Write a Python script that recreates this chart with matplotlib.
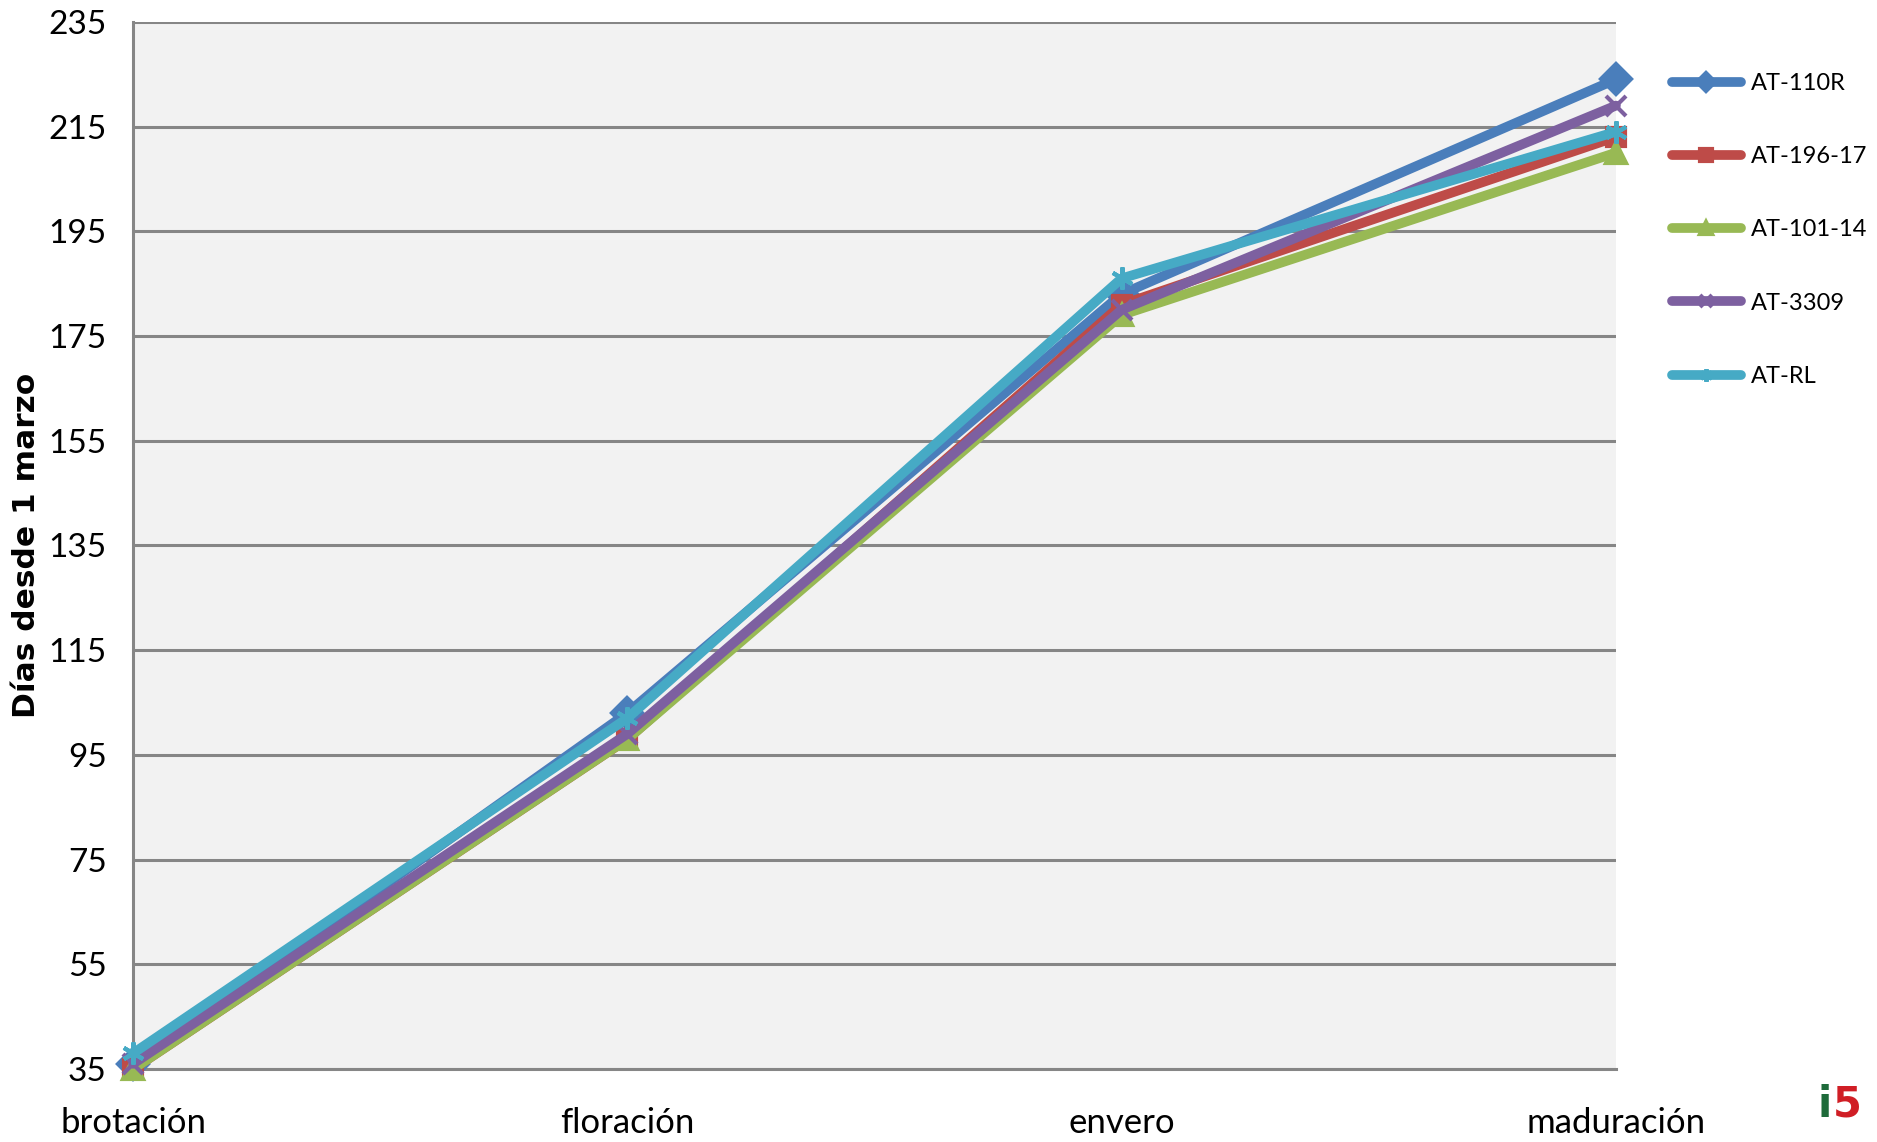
import matplotlib.pyplot as plt

plt.rcParams['font.family'] = ['Lato', 'DejaVu Sans']

etapas = ["brotación", "floración", "envero", "maduración"]
patrones = ["AT-110R", "AT-196-17", "AT-101-14", "AT-3309", "AT-RL"]
at_110r = [36, 103, 183, 224]
at_196_17 = [35, 98, 181, 213]
at_101_14 = [35, 98, 179, 210]
at_3309 = [36, 99, 180, 219]
at_rl = [38, 102, 186, 214]

colores = ["#4A7EBB", "#BE4B48", "#98B954", "#7D60A0", "#46AAC5"]
marcadores = ["D", "s", "^", "x", (6, 2, 0)]
tamanos = [15, 13, 14, 14, 16]


def main():
    fig = plt.figure(figsize=(18.77, 11.42), dpi=100)
    ax = fig.add_axes([0.0709, 0.0639, 0.79, 0.917])
    ax.set_facecolor("#F2F2F2")

    series = [at_110r, at_196_17, at_101_14, at_3309, at_rl]
    x = range(len(etapas))
    for nombre, valores, c, m, ms in zip(patrones, series, colores, marcadores, tamanos):
        ax.plot(x, valores, color=c, lw=7, marker=m, ms=ms, mew=3,
                mec=c, mfc=c, label=nombre, solid_capstyle="round",
                solid_joinstyle="round", clip_on=False, zorder=3)

    ax.set_xlim(0, 3)
    ax.set_ylim(35, 235)
    ax.set_yticks(range(35, 236, 20))
    ax.set_xticks(list(x))
    ax.set_xticklabels(etapas, fontsize=25)
    ax.tick_params(axis="y", labelsize=24, length=0, pad=19)
    ax.tick_params(axis="x", length=0, pad=27)
    ax.yaxis.grid(True, color="#868686", lw=2.2)
    ax.set_axisbelow(True)
    for lado in ["top", "right"]:
        ax.spines[lado].set_visible(False)
    ax.spines["left"].set_color("#868686")
    ax.spines["left"].set_linewidth(2.2)
    ax.spines["bottom"].set_color("#868686")
    ax.spines["bottom"].set_linewidth(2.2)
    for lbl in ax.get_xticklabels() + ax.get_yticklabels():
        lbl.set_clip_on(False)

    ax.set_ylabel("Días desde 1 marzo", fontsize=22.5, fontweight="bold",
                  family="DejaVu Sans")
    ax.yaxis.set_label_coords(-0.062, 0.5)

    leg = ax.legend(loc="upper left", bbox_to_anchor=(1.038, 0.951),
                    frameon=False, fontsize=17, handlelength=2.9,
                    labelspacing=2.21, borderaxespad=0, borderpad=0,
                    handletextpad=0.45)
    for h in leg.legend_handles:
        h.set_markersize(9)

    # logo
    fig.text(0.972, 0.022, "i", color="#1E6B3A", fontsize=30,
             fontweight="bold", ha="center", family="DejaVu Sans")
    fig.text(0.984, 0.022, "5", color="#D01E25", fontsize=30,
             fontweight="bold", ha="center", family="DejaVu Sans")

    plt.savefig("out.png", dpi=100)
    plt.close()


if __name__ == "__main__":
    main()
